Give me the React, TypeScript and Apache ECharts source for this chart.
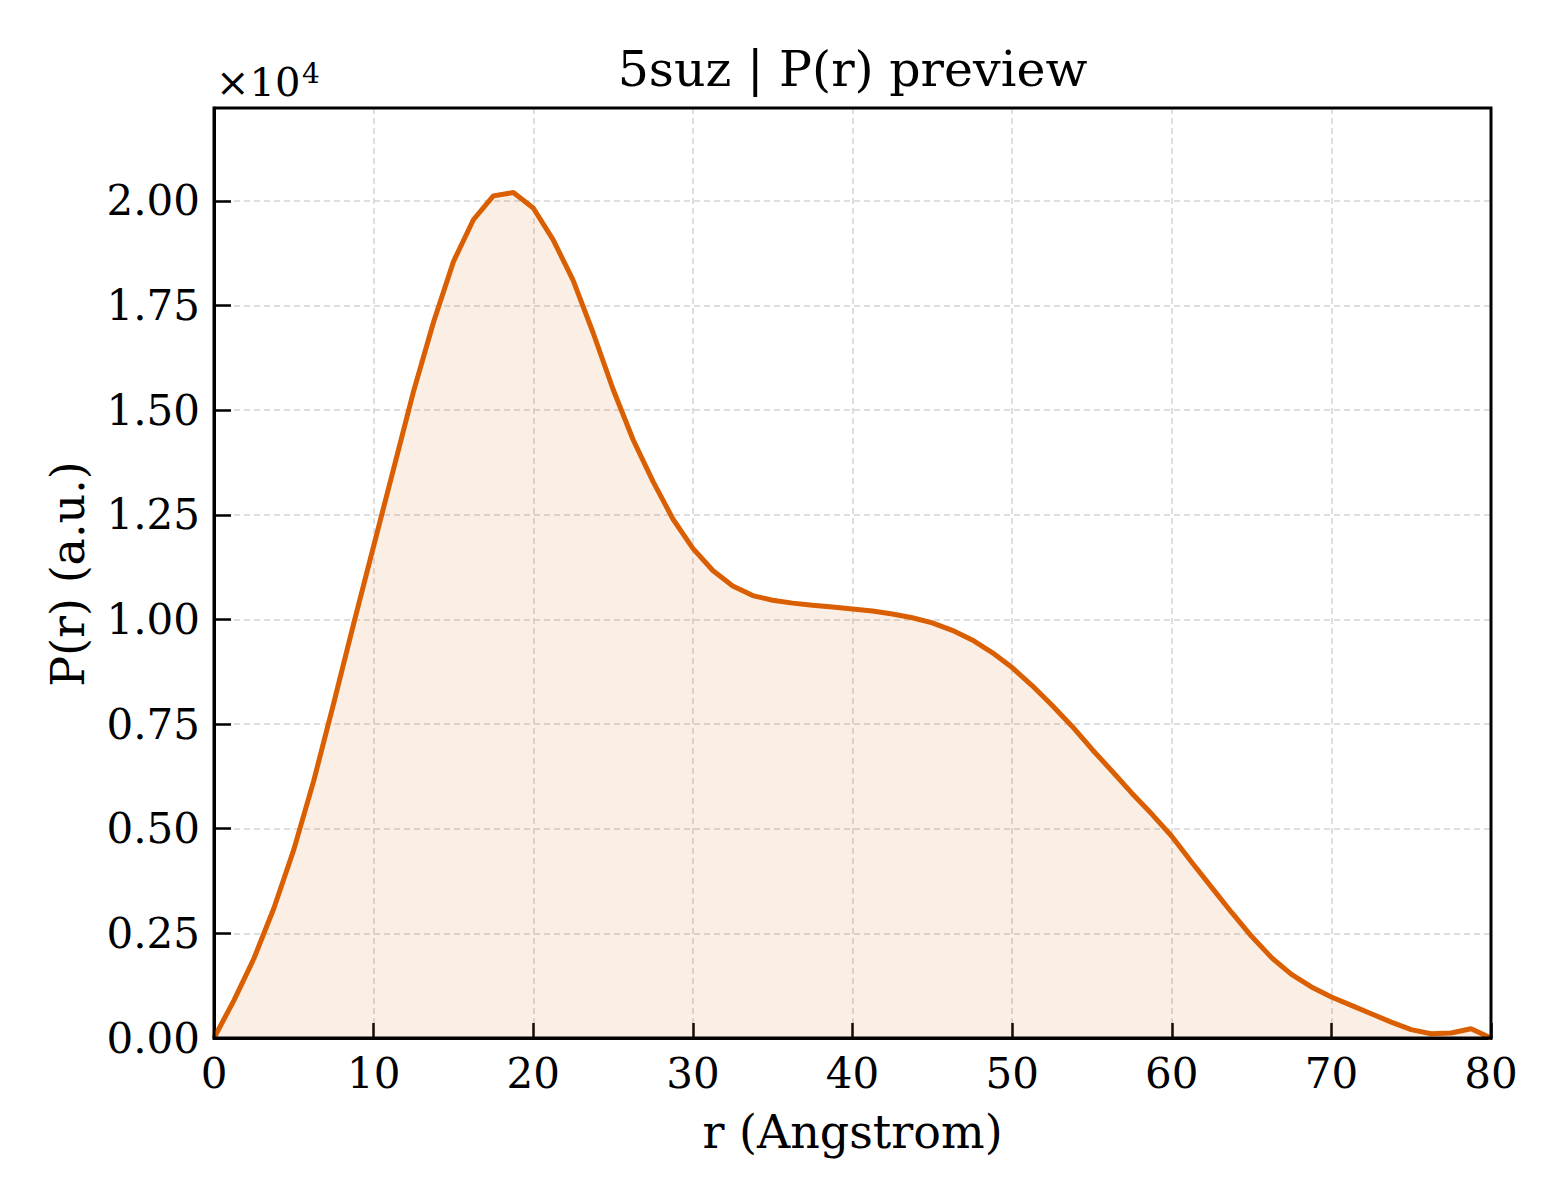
import React, { useEffect, useRef } from "react";
import * as echarts from "echarts";

const rValues = [
  0, 1.25, 2.5, 3.75, 5, 6.25, 7.5, 8.75, 10, 11.25, 12.5, 13.75, 15, 16.25, 17.5, 18.75,
  20, 21.25, 22.5, 23.75, 25, 26.25, 27.5, 28.75, 30, 31.25, 32.5, 33.75, 35, 36.25, 37.5, 38.75,
  40, 41.25, 42.5, 43.75, 45, 46.25, 47.5, 48.75, 50, 51.25, 52.5, 53.75, 55, 56.25, 57.5, 58.75,
  60, 61.25, 62.5, 63.75, 65, 66.25, 67.5, 68.75, 70, 71.25, 72.5, 73.75, 75, 76.25, 77.5, 78.75, 80,
];

const pValues = [
  0, 900, 1900, 3100, 4500, 6150, 8000, 9900, 11750, 13600, 15450, 17100, 18550, 19550, 20120, 20200,
  19830, 19070, 18100, 16850, 15500, 14300, 13300, 12400, 11700, 11170, 10800, 10570, 10460, 10390, 10340, 10300,
  10250, 10200, 10130, 10040, 9920, 9740, 9510, 9210, 8850, 8420, 7950, 7450, 6900, 6380, 5850, 5350,
  4820, 4200, 3600, 3000, 2430, 1920, 1520, 1220, 980, 780, 580, 380, 200, 100, 120, 220, 0,
];

const xTicks = [0, 10, 20, 30, 40, 50, 60, 70, 80];
const yTickLabels = ["0.00", "0.25", "0.50", "0.75", "1.00", "1.25", "1.50", "1.75", "2.00"];

const titleText = "5suz | P(r) preview";
const xLabel = "r (Angstrom)";
const yLabel = "P(r) (a.u.)";

const FONT = "DejaVu Serif";
const LINE = "#d95f02";

export default function App() {
  const ref = useRef<HTMLDivElement>(null);
  useEffect(() => {
    if (!ref.current) return;
    const chart = echarts.init(ref.current, undefined, { renderer: "svg" });
    const data = rValues.map((r, i) => [r, pValues[i]]);
    const gridLeft = 214;
    const gridRight = 1491;
    const gridTop = 108;
    const gridBottom = 1038;
    chart.setOption({
      animation: false,
      backgroundColor: "#ffffff",
      grid: {
        left: gridLeft,
        right: 1560 - gridRight,
        top: gridTop,
        bottom: 1200 - gridBottom,
        show: false,
      },
      xAxis: {
        type: "value",
        min: 0,
        max: 80,
        interval: 10,
        axisLine: { show: true, lineStyle: { color: "#000", width: 3 } },
        axisTick: { show: true, inside: true, length: 15, lineStyle: { color: "#000", width: 2.5 } },
        axisLabel: {
          color: "#000",
          fontFamily: FONT,
          fontSize: 42,
          margin: 14,
          formatter: (v: number) => (xTicks.indexOf(v) >= 0 ? String(v) : ""),
        },
        splitLine: { show: true, lineStyle: { color: "#d4d4d4", width: 1.5, type: [6, 4] } },
      },
      yAxis: {
        type: "value",
        min: 0,
        max: 22220,
        interval: 2500,
        axisLine: { show: true, lineStyle: { color: "#000", width: 3 } },
        axisTick: { show: true, inside: true, length: 17, lineStyle: { color: "#000", width: 2.5 } },
        axisLabel: {
          color: "#000",
          fontFamily: FONT,
          fontSize: 42,
          margin: 14,
          showMaxLabel: false,
          formatter: (v: number) => {
            const idx = Math.round(v / 2500);
            if (Math.abs(idx * 2500 - v) > 1) return "";
            return yTickLabels[idx] ?? "";
          },
        },
        splitLine: { show: true, lineStyle: { color: "#d4d4d4", width: 1.5, type: [6, 4] } },
      },
      series: [
        {
          type: "line",
          data,
          symbol: "none",
          smooth: false,
          lineStyle: { color: LINE, width: 5 },
          areaStyle: { color: "rgba(217,95,2,0.15)", origin: 0 },
          z: 3,
        },
      ],
      graphic: [
        {
          type: "rect",
          z: 100,
          shape: { x: gridLeft, y: gridTop, width: gridRight - gridLeft, height: gridBottom - gridTop },
          style: { fill: "none", stroke: "#000", lineWidth: 3 },
          silent: true,
        },
        {
          type: "text",
          x: (gridLeft + gridRight) / 2,
          y: 69,
          style: {
            text: titleText,
            fontFamily: FONT,
            fontSize: 49,
            fill: "#000",
            textAlign: "center",
            textVerticalAlign: "middle",
          },
        },
        {
          type: "text",
          x: (gridLeft + gridRight) / 2,
          y: 1132,
          style: {
            text: xLabel,
            fontFamily: FONT,
            fontSize: 46,
            fill: "#000",
            textAlign: "center",
            textVerticalAlign: "middle",
          },
        },
        {
          type: "text",
          x: 68,
          y: 574,
          rotation: Math.PI / 2,
          style: {
            text: yLabel,
            fontFamily: FONT,
            fontSize: 46,
            fill: "#000",
            textAlign: "center",
            textVerticalAlign: "middle",
          },
        },
        {
          type: "text",
          x: 216,
          y: 82,
          style: {
            text: "×10",
            fontFamily: FONT,
            fontSize: 40,
            fill: "#000",
            textAlign: "left",
            textVerticalAlign: "middle",
          },
        },
        {
          type: "text",
          x: 302,
          y: 73,
          style: {
            text: "4",
            fontFamily: FONT,
            fontSize: 28,
            fill: "#000",
            textAlign: "left",
            textVerticalAlign: "middle",
          },
        },
      ],
    });
    return () => chart.dispose();
  }, []);
  return (
    <div
      ref={ref}
      style={{ position: "absolute", left: 0, top: 0, width: 1560, height: 1200 }}
    />
  );
}
